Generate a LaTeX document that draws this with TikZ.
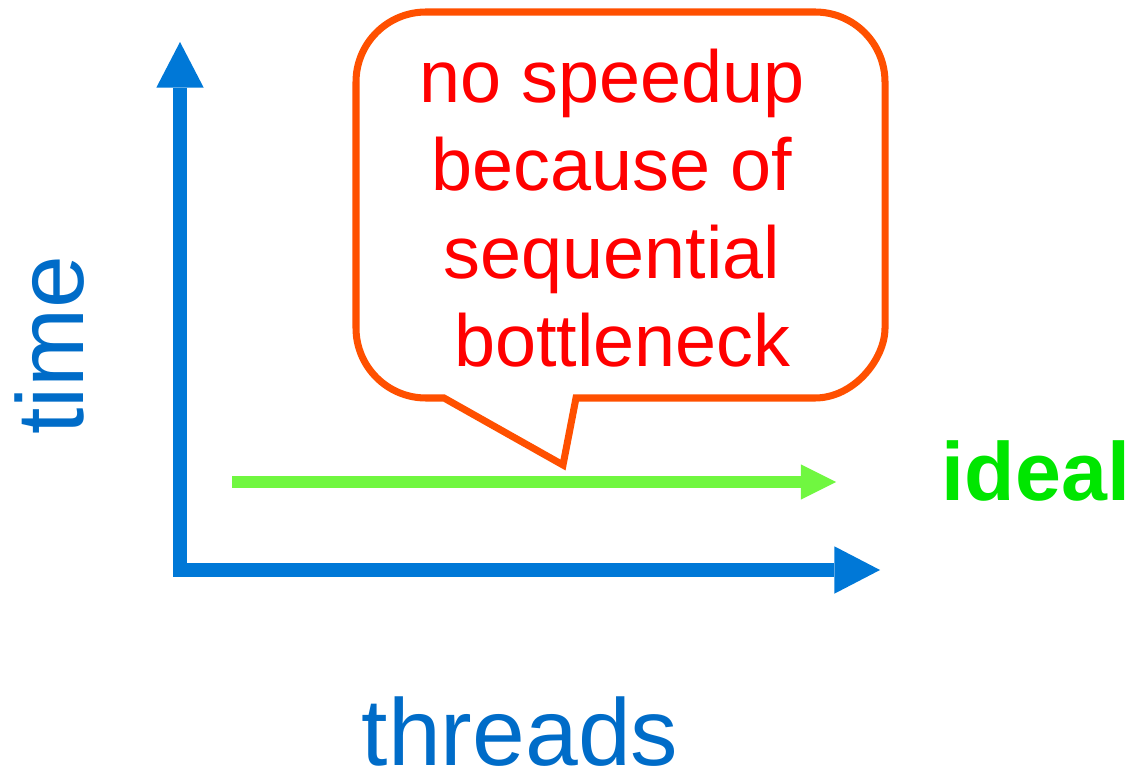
\documentclass[tikz,border=0pt]{standalone}
\usepackage{fontspec}
\setmainfont{Liberation Sans}
\usetikzlibrary{arrows.meta,positioning}
\definecolor{axisblue}{RGB}{0,120,215}
\definecolor{labelblue}{RGB}{0,108,200}
\definecolor{idealgreen}{RGB}{112,247,64}
\definecolor{labelgreen}{RGB}{0,230,0}
\definecolor{bubbleorange}{RGB}{255,80,0}
\definecolor{msgred}{RGB}{255,0,0}

\begin{document}
\begin{tikzpicture}[x=0.02cm, y=-0.02cm]
\tikzstyle{axis} = [line width=8.5pt, draw=axisblue, {Triangle[length=26pt,width=27pt,line width=0pt]}-{Triangle[length=26pt,width=27pt,line width=0pt]}]
\tikzstyle{idealline} = [line width=6.3pt, draw=idealgreen, -{Triangle[length=20pt,width=20pt,line width=0pt]}]
\tikzstyle{bubble} = [line width=4pt, draw=bubbleorange, fill=white]
\tikzstyle{msg} = [align=center, text=msgred, font=\fontsize{42}{50}\selectfont]
\tikzstyle{axislabel} = [text=labelblue, inner sep=0pt, font=\fontsize{54}{60}\selectfont]

\useasboundingbox (0,0) rectangle (1138,773);

% axes
\coordinate (ytip) at (180,42);
\coordinate (origin) at (180,570);
\coordinate (xtip) at (880,570);
\draw [axis] (ytip) -- (origin) -- (xtip);

% ideal line
\coordinate (idealstart) at (232,482);
\coordinate (idealend) at (836,482);
\draw [idealline] (idealstart) -- (idealend);

% callout
\draw [bubble] (576,398) -- (815,398)
  .. controls (853.7,398) and (885,359.3) .. (885,328) -- (885,82)
  .. controls (885,43.3) and (853.7,12) .. (815,12) -- (426,12)
  .. controls (387.3,12) and (356,43.3) .. (356,82) -- (356,328)
  .. controls (356,366.7) and (387.3,398) .. (426,398)
  -- (444,398) -- (563,465) -- cycle;
\node [msg] (msg) at (612,208) {no speedup\\because of\\sequential\\\hspace*{0.28em}bottleneck};

% labels
\node [axislabel, rotate=90] (timelabel) at (50,345) {time};
\node [axislabel, anchor=base] (threadslabel) at (520,765) {threads};
\node [text=labelgreen, anchor=base, font=\fontsize{47}{55}\selectfont\bfseries] (ideallabel) at (1036,500) {ideal};
\end{tikzpicture}
\end{document}
